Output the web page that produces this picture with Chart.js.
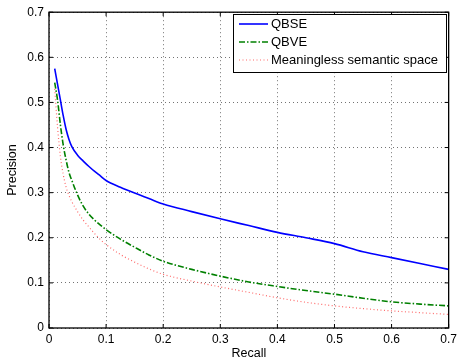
<!DOCTYPE html>
<html><head><meta charset="utf-8">
<script src="https://cdn.jsdelivr.net/npm/chart.js@4/dist/chart.umd.min.js"></script>
<style>html,body{margin:0;padding:0;background:#fff;overflow:hidden}</style>
</head><body>
<canvas id="c" width="461" height="362"></canvas>
<script>
const recall = [0.01,0.015,0.02,0.025,0.03,0.035,0.04,0.05,0.06,0.07,0.08,0.09,0.1,0.125,0.15,0.175,0.2,0.25,0.3,0.35,0.4,0.45,0.5,0.55,0.6,0.65,0.7];
const qbse = [0.575,0.54,0.505,0.47,0.44,0.418,0.402,0.383,0.370,0.358,0.347,0.337,0.327,0.312,0.299,0.287,0.275,0.258,0.242,0.227,0.212,0.200,0.187,0.169,0.156,0.143,0.130];
const qbve = [0.544,0.505,0.45,0.405,0.372,0.345,0.327,0.295,0.27,0.252,0.239,0.228,0.218,0.197,0.179,0.162,0.148,0.13,0.115,0.102,0.092,0.083,0.075,0.066,0.058,0.053,0.049];
const meaningless = [0.53,0.445,0.38,0.34,0.312,0.294,0.28,0.258,0.239,0.224,0.209,0.196,0.185,0.163,0.146,0.131,0.119,0.104,0.091,0.079,0.067,0.057,0.049,0.043,0.038,0.034,0.030];
const seriesLabels = ['QBSE','QBVE','Meaningless semantic space'];
const xTicks = [0,0.1,0.2,0.3,0.4,0.5,0.6,0.7];
const yTicks = [0,0.1,0.2,0.3,0.4,0.5,0.6,0.7];
const xTitle = 'Recall';
const yTitle = 'Precision';

const FONT = "'Liberation Sans', Arial, Helvetica, sans-serif";
const toPts = ys => recall.map((x,i)=>({x:x,y:ys[i]}));
const fmt = v => String(Math.round(v*10)/10);

const styles = [
  {color:'#0000ff', width:1.6, dash:[]},
  {color:'#008000', width:1.6, dash:[6,2,1.5,2]},
  {color:'#ff6a6a', width:1.2, dash:[1,2.5]}
];
const series = [qbse, qbve, meaningless];

const frame = {
  id:'frame',
  afterDatasetsDraw(chart){
    const ctx = chart.ctx, a = chart.chartArea;
    const xs = chart.scales.x, ys = chart.scales.y;
    ctx.save();
    ctx.strokeStyle = '#000';
    ctx.lineWidth = 1;
    ctx.setLineDash([]);
    ctx.beginPath();
    xTicks.forEach(v=>{
      const p = xs.getPixelForValue(v);
      ctx.moveTo(p,a.bottom); ctx.lineTo(p,a.bottom-4);
      ctx.moveTo(p,a.top); ctx.lineTo(p,a.top+4);
    });
    yTicks.forEach(v=>{
      const p = ys.getPixelForValue(v);
      ctx.moveTo(a.left,p); ctx.lineTo(a.left+4,p);
      ctx.moveTo(a.right,p); ctx.lineTo(a.right-4,p);
    });
    ctx.stroke();
    ctx.lineWidth = 1.3;
    ctx.strokeRect(a.left, a.top, a.right-a.left, a.bottom-a.top);
    // legend
    const bx=233, by=14, bw=213, bh=58;
    ctx.fillStyle='#fff';
    ctx.fillRect(bx,by,bw,bh);
    ctx.lineWidth=1;
    ctx.strokeRect(bx+0.5,by+0.5,bw,bh);
    ctx.font = "13px " + FONT;
    ctx.textBaseline='middle';
    const rows=[24,42,60];
    chart.data.datasets.forEach((ds,i)=>{
      ctx.strokeStyle=ds.borderColor;
      ctx.lineWidth=ds.borderWidth;
      ctx.setLineDash(ds.borderDash||[]);
      ctx.beginPath();
      ctx.moveTo(239,rows[i]); ctx.lineTo(268,rows[i]);
      ctx.stroke();
      ctx.setLineDash([]);
      ctx.fillStyle='#000';
      ctx.fillText(ds.label,271,rows[i]+0.5);
    });
    ctx.restore();
  }
};

new Chart(document.getElementById('c'), {
  type:'line',
  data:{
    datasets: series.map((s,i)=>({
      label: seriesLabels[i],
      data: toPts(s),
      borderColor: styles[i].color,
      borderWidth: styles[i].width,
      borderDash: styles[i].dash,
      pointRadius:0,
      cubicInterpolationMode:'monotone',
      fill:false
    }))
  },
  options:{
    responsive:false,
    animation:false,
    layout:{padding:{left:0,right:8,top:11,bottom:0}},
    plugins:{legend:{display:false}, tooltip:{enabled:false}},
    scales:{
      x:{
        type:'linear', min:0, max:0.7,
        afterBuildTicks: s=>{ s.ticks = xTicks.map(v=>({value:v})); },
        afterFit: s=>{ s.height = 34; },
        ticks:{ callback: v=>fmt(v), font:{family:FONT,size:12}, color:'#000', padding:4, maxRotation:0, autoSkip:false },
        grid:{ color:'rgba(0,0,0,0.55)', lineWidth:1, drawTicks:false },
        border:{ display:false, dash:[1,3] },
        title:{ display:true, text:xTitle, font:{family:FONT,size:12.5}, color:'#000', padding:{top:0,bottom:0.5} }
      },
      y:{
        type:'linear', min:0, max:0.7,
        afterBuildTicks: s=>{ s.ticks = yTicks.map(v=>({value:v})); },
        afterFit: s=>{ s.width = 49; },
        ticks:{ callback: v=>fmt(v), font:{family:FONT,size:12}, color:'#000', padding:5, autoSkip:false },
        grid:{ color:'rgba(0,0,0,0.55)', lineWidth:1, drawTicks:false },
        border:{ display:false, dash:[1,3] },
        title:{ display:true, text:yTitle, font:{family:FONT,size:12.5}, color:'#000', padding:{top:5.5,bottom:0} }
      }
    }
  },
  plugins:[frame]
});
</script>
</body></html>
